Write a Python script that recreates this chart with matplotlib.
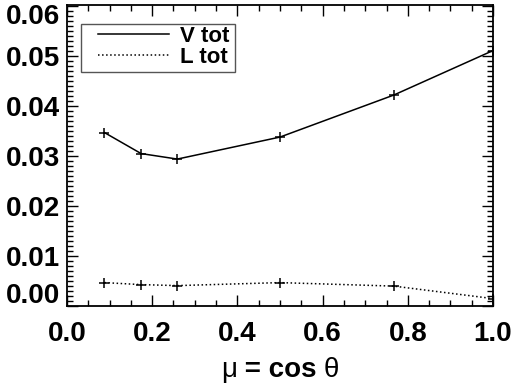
import matplotlib
matplotlib.use('Agg')
import matplotlib.pyplot as plt
import matplotlib.transforms as mtransforms
from matplotlib.lines import Line2D
from matplotlib.patches import Rectangle
from matplotlib.offsetbox import TextArea, HPacker, AnchoredOffsetbox
from matplotlib.ticker import MultipleLocator, FixedLocator
import numpy as np

plt.rcParams['font.family'] = ['Liberation Sans', 'DejaVu Sans']
plt.rcParams['font.weight'] = 'bold'

mu = [0.088, 0.174, 0.259, 0.5, 0.767, 1.0]
v_tot = [0.0346, 0.0304, 0.0293, 0.0337, 0.0421, 0.0510]
l_tot = [0.0046, 0.0042, 0.0040, 0.0046, 0.0039, 0.0014]

fig = plt.figure(figsize=(5.19, 3.87), dpi=100)
ax = fig.add_axes([0.129, 0.209, 0.821, 0.778])

ax.plot(mu, v_tot, color='black', lw=1.1, marker='+', ms=6.5, mew=1.1)
ax.plot(mu, l_tot, color='black', lw=1.1, ls=':', marker='+', ms=6.5, mew=1.1)

ax.set_xlim(0, 1.0)
ax.set_ylim(-0.0001, 0.0601)
ax.xaxis.set_major_locator(FixedLocator([0.0, 0.2, 0.4, 0.6, 0.8, 1.0]))
ax.xaxis.set_minor_locator(MultipleLocator(0.05))
ax.yaxis.set_major_locator(FixedLocator([0.0, 0.01, 0.02, 0.03, 0.04, 0.05, 0.06]))
ax.yaxis.set_minor_locator(MultipleLocator(0.001))
ax.set_xticklabels(['0.0', '0.2', '0.4', '0.6', '0.8', '1.0'])
ax.set_yticklabels(['0.00', '0.01', '0.02', '0.03', '0.04', '0.05', '0.06'])

ax.tick_params(which='both', direction='in', top=True, right=True, width=1, labelsize=20)
ax.tick_params(which='major', length=8)
ax.tick_params(which='minor', length=4)
ax.tick_params(axis='x', pad=11)
ax.tick_params(axis='y', pad=5)
for s in ax.spines.values():
    s.set_linewidth(1.3)

# x label: greek letters thin, the rest bold
parts = [TextArea('μ', textprops=dict(fontsize=20, fontweight='normal')),
         TextArea(' = cos ', textprops=dict(fontsize=20, fontweight='bold')),
         TextArea('θ', textprops=dict(fontsize=20, fontweight='normal'))]
xlab = AnchoredOffsetbox(loc='upper center', child=HPacker(children=parts, align='baseline', pad=0, sep=0),
                         bbox_to_anchor=(0.5, -0.168), bbox_transform=ax.transAxes,
                         frameon=False, pad=0, borderpad=0)
ax.add_artist(xlab)

handles = [Line2D([], [], color='black', lw=1.1),
           Line2D([], [], color='black', lw=1.1, ls=':')]
leg = ax.legend(handles, ['V tot', 'L tot'], loc='upper left', bbox_to_anchor=(0.072, 0.93),
                borderaxespad=0, fontsize=16, handlelength=3.2, frameon=False,
                borderpad=0.0, labelspacing=0.0, handletextpad=0.5)

# shift end labels inward like the original
fig.canvas.draw()
ylabs = ax.get_yticklabels()
ylabs[0].set_transform(ylabs[0].get_transform() + mtransforms.ScaledTranslation(0, 13 / 100, fig.dpi_scale_trans))
ylabs[-1].set_transform(ylabs[-1].get_transform() + mtransforms.ScaledTranslation(0, -8 / 100, fig.dpi_scale_trans))

# square legend box with a wider left margin, like the original
bb = leg.get_window_extent(fig.canvas.get_renderer())
inv = fig.transFigure.inverted()
(x0, y0), (x1, y1) = inv.transform([[bb.x0 - 17, bb.y0 - 4], [bb.x1 + 6, bb.y1 + 2]])
fig.add_artist(Rectangle((x0, y0), x1 - x0, y1 - y0, transform=fig.transFigure,
                         fill=False, edgecolor='#555555', lw=1.0))

fig.savefig('out.png', dpi=100)
